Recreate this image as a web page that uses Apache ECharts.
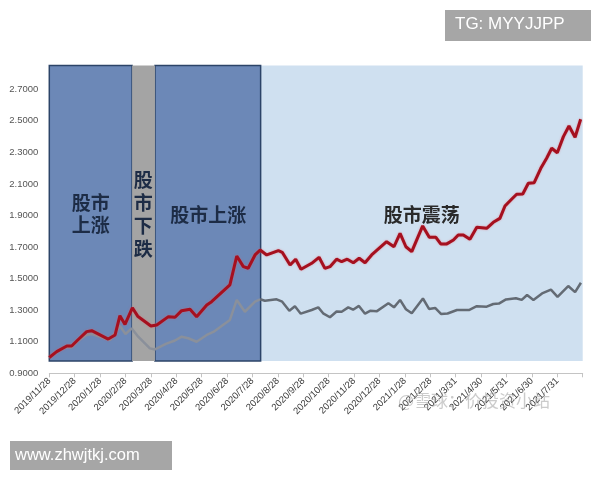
<!DOCTYPE html>
<html><head><meta charset="utf-8">
<script src="https://cdn.jsdelivr.net/npm/echarts@6/dist/echarts.min.js"></script>
<style>html,body{margin:0;padding:0;background:#fff}#c{width:600px;height:480px}</style>
</head><body><div id="c"></div>
<script>
// x positions are in months after 2019/11/28
const monthLabels = ['2019/11/28','2019/12/28','2020/1/28','2020/2/28','2020/3/28','2020/4/28','2020/5/28','2020/6/28','2020/7/28','2020/8/28','2020/9/28','2020/10/28','2020/11/28','2020/12/28','2021/1/28','2021/2/28','2021/3/31','2021/4/30','2021/5/31','2021/6/30','2021/7/31'];
const yTicks = [0.9,1.1,1.3,1.5,1.7,1.9,2.1,2.3,2.5,2.7];

const redMonths = [0,0.29,0.69,0.88,1.12,1.47,1.67,2.32,2.59,2.78,2.98,3.27,3.48,4.00,4.23,4.69,4.95,5.21,5.54,5.80,6.20,6.39,7.11,7.38,7.64,7.83,8.10,8.30,8.56,9.02,9.17,9.48,9.70,9.91,10.33,10.62,10.85,11.05,11.31,11.51,11.73,11.97,12.20,12.43,12.69,13.28,13.57,13.81,14.04,14.27,14.70,14.96,15.22,15.41,15.65,15.91,16.10,16.30,16.56,16.83,17.22,17.48,17.74,17.94,18.20,18.40,18.64,18.86,19.09,19.35,19.58,19.78,20.00,20.24,20.46,20.70,20.92];
const redValues = [1.00,1.037,1.073,1.073,1.111,1.164,1.170,1.117,1.143,1.265,1.210,1.315,1.262,1.200,1.206,1.259,1.255,1.297,1.306,1.259,1.333,1.354,1.460,1.643,1.576,1.566,1.650,1.681,1.650,1.677,1.667,1.586,1.623,1.559,1.597,1.635,1.565,1.576,1.623,1.607,1.623,1.601,1.629,1.601,1.650,1.734,1.702,1.787,1.702,1.671,1.834,1.762,1.762,1.720,1.720,1.745,1.777,1.777,1.749,1.825,1.819,1.857,1.882,1.960,2.003,2.035,2.036,2.104,2.108,2.199,2.263,2.326,2.298,2.400,2.467,2.396,2.510];

const grayMonths = [0,0.29,0.69,0.88,1.12,1.47,1.67,2.39,2.78,3.0,3.24,3.50,3.96,4.16,4.59,4.95,5.21,5.47,5.80,6.20,6.46,7.11,7.38,7.70,8.10,8.30,8.49,8.95,9.17,9.45,9.67,9.90,10.33,10.59,10.78,11.05,11.31,11.51,11.77,11.96,12.19,12.43,12.63,12.90,13.35,13.57,13.81,14.04,14.27,14.71,14.95,15.19,15.42,15.68,16.05,16.52,16.83,17.22,17.48,17.70,17.98,18.37,18.60,18.81,19.06,19.40,19.75,20.01,20.43,20.70,20.93];
const grayValues = [1.00,1.037,1.067,1.065,1.105,1.143,1.149,1.111,1.200,1.149,1.185,1.132,1.058,1.051,1.086,1.108,1.132,1.122,1.100,1.143,1.162,1.238,1.365,1.290,1.354,1.369,1.360,1.369,1.354,1.297,1.325,1.278,1.301,1.318,1.280,1.255,1.292,1.290,1.318,1.303,1.327,1.278,1.296,1.294,1.344,1.318,1.365,1.306,1.280,1.374,1.308,1.314,1.276,1.279,1.301,1.301,1.325,1.322,1.339,1.342,1.368,1.376,1.365,1.396,1.365,1.406,1.430,1.384,1.453,1.414,1.474];

// shaded phases (months)
const phaseNames = ['股市\n上涨','股\n市\n下\n跌','股市上涨','股市震荡'];
const phaseStart = [0, 3.26, 4.16, 8.32];
const phaseEnd = [3.26, 4.16, 8.32, 21];
const phaseLow = 0.978, phaseHigh = 2.85;
const phaseLabelX = [1.63, 3.70, 6.26, 14.66];
const phaseLabelY = [1.91, 1.905, 1.905, 1.905];

const chart = echarts.init(document.getElementById('c'), null, {renderer:'canvas'});
const darkStyle = {color:'#6c88b7', borderColor:'#2c4468', borderWidth:1.5};
const phaseStyles = [darkStyle, {color:'#a4a4a4', borderWidth:0}, darkStyle, {color:'#cfe0f0', borderWidth:0}];
const order = [3,0,2,1];
const labelColors = ['#1d2c46','#1d2c46','#1d2c46','#2a2a2a'];

const isTick = v => yTicks.some(t => Math.abs(t - v) < 1e-6);

const grayPts = grayMonths.map((m,i)=>[m, grayValues[i]]);
let split = 0;
grayMonths.forEach((m,i) => { if (m < phaseStart[3]) split = i; });
const grayInDark = grayPts.slice(0, split + 1);
const grayInLight = grayPts.slice(split);

const markSeries = [
  {type:'line', data:[], z:1, silent:true,
    markArea:{silent:true, data: order.map(i => [
      {xAxis:phaseStart[i], yAxis:phaseLow, itemStyle:phaseStyles[i]},
      {xAxis:phaseEnd[i], yAxis:phaseHigh}])}}
];
phaseNames.forEach((n,i) => markSeries.push({type:'line', data:[], z:6, silent:true,
  markPoint:{symbol:'circle', symbolSize:1, silent:true, itemStyle:{color:'rgba(0,0,0,0)'},
    label:{show:true, position:'inside', formatter:'{b}', fontSize:19, fontWeight:'bold',
      lineHeight: i===1 ? 23 : 22, fontFamily:'Noto Sans CJK SC', color:labelColors[i]},
    data:[{name:n, coord:[phaseLabelX[i], phaseLabelY[i]]}]}}));

chart.setOption({
  animation:false,
  grid:{left:49.3, right:17.3, top:65.6, bottom:106.7},
  xAxis:{type:'value', min:0, max:21, interval:1,
    axisLine:{show:true, lineStyle:{color:'#c4c4c4', width:1}},
    axisTick:{show:true, length:4, lineStyle:{color:'#c4c4c4'}},
    splitLine:{show:false},
    axisLabel:{rotate:45, margin:6, fontSize:9.5, color:'#3a3a3a', fontFamily:'Liberation Sans',
      formatter: v => monthLabels[Math.round(v)] || ''}},
  yAxis:{type:'value', min:0.9, max:2.85, interval:0.2,
    axisLine:{show:false}, axisTick:{show:false}, splitLine:{show:false},
    axisLabel:{margin:11, fontSize:9.5, color:'#555', fontFamily:'Liberation Sans',
      formatter: v => isTick(v) ? v.toFixed(4) : ''}},
  series: markSeries.concat([
    {type:'line', z:3, symbol:'none', data: grayInDark,
      lineStyle:{width:2.5, color:'#8a909b'}, itemStyle:{color:'#8a909b'}},
    {type:'line', z:3, symbol:'none', data: grayInLight,
      lineStyle:{width:2.5, color:'#646b74'}, itemStyle:{color:'#646b74'}},
    {type:'line', z:4, symbol:'none', data: redMonths.map((m,i)=>[m, redValues[i]]),
      lineStyle:{width:3, color:'#a5101f', shadowColor:'rgba(230,90,100,0.6)', shadowBlur:2}, itemStyle:{color:'#a5101f'}}
  ]),
  graphic:[
    {type:'text', left:398, top:392, z:100, silent:true,
      style:{text:'@雪球：价投资小站', fontSize:17, fontFamily:'Noto Sans CJK SC', fill:'rgba(140,140,140,0.45)'}},
    {type:'group', left:445, top:10, z:100, children:[
      {type:'rect', shape:{x:0,y:0,width:146,height:31}, style:{fill:'#a6a6a6'}},
      {type:'text', x:10, y:6, style:{text:'TG: MYYJJPP', fontSize:17, fontFamily:'Liberation Sans', fill:'#fff'}}
    ]},
    {type:'group', left:10, top:441, z:100, children:[
      {type:'rect', shape:{x:0,y:0,width:162,height:29}, style:{fill:'#a6a6a6'}},
      {type:'text', x:5, y:6, style:{text:'www.zhwjtkj.com', fontSize:16.5, fontFamily:'Liberation Sans', fill:'#fff'}}
    ]}
  ]
});
</script></body></html>
